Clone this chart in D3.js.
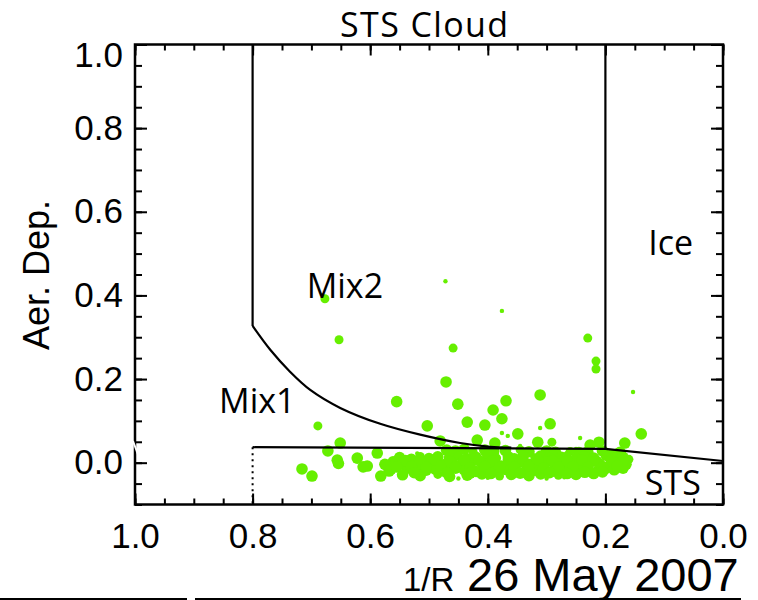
<!DOCTYPE html>
<html><head><meta charset="utf-8">
<script src="https://cdn.jsdelivr.net/npm/d3@7"></script>
<style>
html,body{margin:0;padding:0;background:#fff;}
svg{display:block;}
</style></head><body>
<svg id="chart" width="758" height="600"></svg>
<script>
// Observations: 1/R (x), aerosol depolarisation (y), and a marker class (1 small, 2 medium, 3 large)
const invR = [
  0.472,0.677,0.653,0.459,0.376,0.230,0.216,0.216,0.153,0.689,
  0.555,0.503,0.471,0.451,0.435,0.405,0.391,0.376,0.369,0.311,
  0.294,0.311,0.376,0.366,0.349,0.243,0.139,0.167,0.211,0.226,
  0.481,0.418,0.388,0.315,0.291,0.651,0.672,
  0.716,0.699,0.656,0.654,0.622,0.612,0.605,0.588,0.582,0.568,0.561,
  0.470,0.455,0.440,0.425,0.405,0.390,0.370,0.345,0.330,0.300,0.285,0.260,0.245,0.230,0.205,0.190,0.175,
  0.550,0.530,0.515,0.500,0.485,0.465,0.450,0.435,0.420,0.400,0.385,0.365,0.355,0.340,0.320,0.310,0.295,0.275,0.265,0.250,0.235,0.220,0.200,0.185,0.170,0.160,
  0.575,0.545,0.530,0.510,0.495,0.475,0.460,0.445,0.430,0.410,0.395,0.378,0.360,0.345,0.330,0.315,0.300,0.285,0.270,0.255,0.240,0.225,0.210,0.195,0.180,0.165,
  0.565,0.540,0.520,0.505,0.490,0.470,0.455,0.440,0.420,0.405,0.390,0.370,0.355,0.335,0.320,0.305,0.290,0.275,0.260,0.245,0.230,0.215,0.200,0.185,0.170,
  0.545,0.515,0.485,0.465,0.435,0.410,0.380,0.360,0.330,0.310,0.280,0.250,0.220,0.300,0.400,
  0.450,0.270,0.520,0.345,0.250,
  0.540,0.515,0.490,0.465,0.440,0.415,0.390,0.365,0.340,0.315,0.290,0.265,0.240,0.215,0.190,0.170,
  0.555,0.530,0.505,0.480,0.455,0.430,0.405,0.380,0.355,0.330,0.305,0.280,0.255,0.230,0.205,0.180,
  0.525,0.470,0.430,0.395,0.345,0.295,0.265,0.235,0.205
];
const aerDep = [
  0.434,0.392,0.294,0.274,0.363,0.298,0.243,0.224,0.169,0.088,
  0.146,0.088,0.193,0.140,0.097,0.090,0.126,0.105,0.148,0.162,
  0.093,0.083,0.071,0.064,0.069,0.059,0.069,0.047,0.049,0.042,
  0.052,0.054,0.047,0.049,0.049,0.047,0.028,
  -0.015,-0.032,0.006,-0.002,0.011,-0.010,-0.008,0.023,-0.032,-0.020,0.002,
  0.030,0.028,0.032,0.026,0.030,0.027,0.029,0.031,0.026,0.028,0.025,0.027,0.024,0.026,0.028,0.022,0.025,
  0.012,0.008,0.015,0.010,0.014,0.011,0.016,0.009,0.013,0.017,0.011,0.014,0.009,0.015,0.012,0.016,0.010,0.013,0.017,0.009,0.014,0.011,0.015,0.010,0.013,0.008,
  -0.004,0.000,-0.006,-0.002,0.001,-0.005,-0.001,0.002,-0.004,-0.001,0.003,-0.005,-0.002,0.001,-0.004,-0.001,0.002,-0.003,0.000,-0.005,-0.001,0.002,-0.003,-0.006,0.000,-0.004,
  -0.016,-0.019,-0.014,-0.018,-0.015,-0.020,-0.013,-0.017,-0.021,-0.014,-0.018,-0.016,-0.020,-0.013,-0.018,-0.015,-0.020,-0.016,-0.013,-0.018,-0.015,-0.019,-0.014,-0.017,-0.013,
  -0.029,-0.031,-0.028,-0.033,-0.030,-0.027,-0.032,-0.028,-0.031,-0.027,-0.030,-0.028,-0.026,-0.038,-0.036,
  -0.038,-0.035,0.022,0.040,0.033,
  0.005,0.004,0.007,0.003,0.006,0.005,0.004,0.007,0.003,0.006,0.005,0.004,0.006,0.003,0.005,0.004,
  -0.010,-0.009,-0.011,-0.008,-0.010,-0.012,-0.009,-0.011,-0.010,-0.008,-0.012,-0.010,-0.009,-0.011,-0.010,-0.008,
  -0.024,-0.024,-0.025,-0.026,-0.025,-0.024,-0.026,-0.023,-0.022
];
const dotClass = [
  1,2,2,2,1,2,2,2,1,2,
  3,3,3,3,3,3,3,3,3,3,
  3,1,1,1,3,1,3,3,3,3,
  3,3,3,3,2,3,3,
  3,3,3,3,3,3,3,3,3,3,3,
  3,3,3,2,3,3,3,2,3,3,3,2,3,3,3,2,3,
  3,3,2,3,3,3,2,3,3,3,2,3,3,3,2,3,3,3,2,3,3,3,2,3,3,2,
  3,3,3,2,3,3,3,2,3,3,3,2,3,3,3,2,3,3,3,2,3,3,3,2,3,3,
  3,2,3,3,3,2,3,3,3,2,3,3,3,2,3,3,3,2,3,3,3,2,3,3,3,
  3,3,2,3,3,3,2,3,3,3,2,3,3,1,1,
  1,1,1,1,1,
  3,3,3,3,3,3,3,3,3,3,3,3,3,3,3,3,
  3,3,3,3,3,3,3,3,3,3,3,3,3,3,3,3,
  3,3,3,3,3,3,3,3,3
];

// Regime boundaries in (1/R, Aer. Dep.) space
const mix1CurveX = [0.800, 0.770, 0.736, 0.702, 0.651, 0.583, 0.515, 0.447, 0.396, 0.360];
const mix1CurveY = [0.327, 0.270, 0.217, 0.174, 0.131, 0.093, 0.067, 0.047, 0.038, 0.036];
const stsLineX = [0.8, 0.2, 0.0];
const stsLineY = [0.037, 0.033, 0.004];
const mixEdgeX = 0.8;
const iceEdgeX = 0.2;

// Axis ticks
const xMajorTicks = [1.0, 0.8, 0.6, 0.4, 0.2, 0.0];
const yMajorTicks = [0.0, 0.2, 0.4, 0.6, 0.8, 1.0];
const xMinorTicks = d3.range(0, 21).map(i => i * 0.05);
const yMinorTicks = d3.range(-2, 21).map(i => i * 0.05);

// Region labels and their anchor positions in data space
const regionNames = ["Mix2", "Mix1", "Ice", "STS"];
const regionX = [0.708, 0.857, 0.127, 0.133];
const regionY = [0.393, 0.118, 0.496, -0.078];

const svg = d3.select("#chart");
const x = d3.scaleLinear().domain([1, 0]).range([135, 723]);
const y = d3.scaleLinear().domain([-0.1, 1.0]).range([504.5, 44.5]);
const rScale = d3.scaleOrdinal().domain([1, 2, 3]).range([2.2, 4.5, 5.8]);

const tickFont = "'Liberation Sans', Arial, Helvetica, sans-serif";
const labelFont = "'Open Sans', 'Noto Sans', sans-serif";

// points
svg.append("g").selectAll("circle")
  .data(invR.map((v, i) => ({ r: v, a: aerDep[i], c: dotClass[i] })))
  .join("circle")
  .attr("cx", d => x(d.r))
  .attr("cy", d => y(d.a))
  .attr("r", d => rScale(d.c))
  .attr("fill", "#66ef00");

// boundaries
const lineGen = d3.line().x(d => x(d[0])).y(d => y(d[1]));
const boundaries = svg.append("g").attr("fill", "none").attr("stroke", "#000").attr("stroke-width", 2.2);
boundaries.append("path")
  .attr("d", d3.line().x(d => x(d[0])).y(d => y(d[1])).curve(d3.curveCatmullRom)(mix1CurveX.map((v, i) => [v, mix1CurveY[i]])));
boundaries.append("path").attr("d", lineGen(stsLineX.map((v, i) => [v, stsLineY[i]])));
boundaries.append("path").attr("d", lineGen([[mixEdgeX, 1.0], [mixEdgeX, mix1CurveY[0]]]));
boundaries.append("path").attr("d", lineGen([[iceEdgeX, 1.0], [iceEdgeX, stsLineY[1]]]));
boundaries.append("path").attr("d", lineGen([[mixEdgeX, stsLineY[0]], [mixEdgeX, -0.1]]))
  .attr("stroke-width", 2).attr("stroke-dasharray", "2,4");

// axes: labelled majors plus unlabelled minors, all ticks pointing inward
function styleAxis(g) {
  g.select(".domain").remove();
  g.selectAll("line").attr("stroke", "#000").attr("stroke-width", 2);
  g.selectAll("text").attr("font-family", tickFont).attr("font-size", 35).attr("fill", "#000");
}
const fmt = d3.format(".1f");
svg.append("g").attr("transform", "translate(135,0)")
  .call(d3.axisLeft(y).tickValues(yMinorTicks).tickSize(-7).tickFormat("")).call(styleAxis);
svg.append("g").attr("transform", "translate(135,0)")
  .call(d3.axisLeft(y).tickValues(yMajorTicks).tickSize(-12).tickPadding(12).tickFormat(fmt)).call(styleAxis)
  .selectAll("text").filter(d => d === 1.0).attr("dy", "0.62em");
svg.append("g").attr("transform", "translate(723,0)")
  .call(d3.axisRight(y).tickValues(yMinorTicks).tickSize(-7).tickFormat("")).call(styleAxis);
svg.append("g").attr("transform", "translate(723,0)")
  .call(d3.axisRight(y).tickValues(yMajorTicks).tickSize(-12).tickFormat("")).call(styleAxis);
svg.append("g").attr("transform", "translate(0,504.5)")
  .call(d3.axisBottom(x).tickValues(xMinorTicks).tickSize(-6).tickFormat("")).call(styleAxis);
svg.append("g").attr("transform", "translate(0,504.5)")
  .call(d3.axisBottom(x).tickValues(xMajorTicks).tickSize(-11).tickPadding(19).tickFormat(fmt)).call(styleAxis);
svg.append("g").attr("transform", "translate(0,44.5)")
  .call(d3.axisTop(x).tickValues(xMinorTicks).tickSize(-6).tickFormat("")).call(styleAxis);
svg.append("g").attr("transform", "translate(0,44.5)")
  .call(d3.axisTop(x).tickValues(xMajorTicks).tickSize(-11).tickFormat("")).call(styleAxis);

// frame
svg.append("rect").attr("x", 135).attr("y", 44.5).attr("width", 588).attr("height", 460)
  .attr("fill", "none").attr("stroke", "#000").attr("stroke-width", 2.5);

// small break across the left spine beside the 0.0 label
svg.append("line").attr("x1", 133).attr("y1", 441).attr("x2", 140).attr("y2", 460)
  .attr("stroke", "#fff").attr("stroke-width", 2);

// region labels
svg.append("g").selectAll("text").data(regionNames).join("text")
  .attr("x", (d, i) => x(regionX[i])).attr("y", (d, i) => y(regionY[i]))
  .attr("font-family", labelFont).attr("font-size", 34).attr("fill", "#000")
  .text(d => d);

// title
svg.append("text").attr("x", 424).attr("y", 37).attr("text-anchor", "middle")
  .attr("font-family", labelFont).attr("font-size", 34)
  .attr("textLength", 168).attr("lengthAdjust", "spacing")
  .attr("fill", "#000").text("STS Cloud");

// y axis title
svg.append("text").attr("transform", "translate(49,275) rotate(-90)").attr("text-anchor", "middle")
  .attr("font-family", tickFont).attr("font-size", 36).attr("fill", "#000").text("Aer. Dep.");

// x axis title and date
svg.append("text").attr("x", 403).attr("y", 591)
  .attr("font-family", tickFont).attr("font-size", 33).attr("fill", "#000").text("1/R");
svg.append("text").attr("x", 467).attr("y", 591)
  .attr("font-family", tickFont).attr("font-size", 47).attr("fill", "#000").text("26 May 2007");

// rule under the date
svg.append("g").attr("stroke", "#000").attr("stroke-width", 2)
  .selectAll("line").data([[0, 187], [195, 741]]).join("line")
  .attr("x1", d => d[0]).attr("x2", d => d[1]).attr("y1", 599).attr("y2", 599);
</script>
</body></html>
